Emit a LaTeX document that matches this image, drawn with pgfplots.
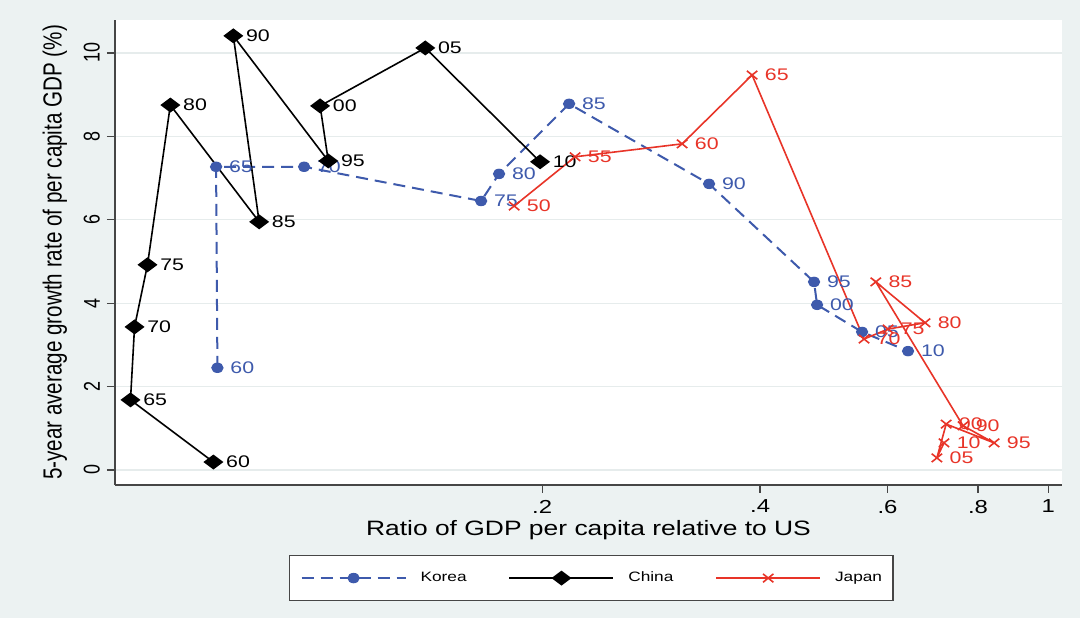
\documentclass[border=0pt]{standalone}
\usepackage{pgfplots}
\pgfplotsset{compat=1.18}
\usepackage{fontspec}
\setmainfont{Liberation Sans}[FakeStretch=1.27]
\newfontfamily\rotfont{Liberation Sans}[FakeStretch=0.787]
\definecolor{bg}{RGB}{236,242,242}
\definecolor{korea}{RGB}{62,90,172}
\definecolor{japan}{RGB}{232,52,40}
\definecolor{gridc}{RGB}{230,236,236}
\definecolor{axisc}{RGB}{70,70,70}

\pgfdeclareplotmark{kdot}{\pgfpathellipse{\pgfpointorigin}{\pgfqpoint{3.1bp}{0pt}}{\pgfqpoint{0pt}{2.6bp}}\pgfusepathqfill}
\pgfdeclareplotmark{cdiam}{\pgfpathmoveto{\pgfqpoint{0pt}{3.75bp}}\pgfpathlineto{\pgfqpoint{5bp}{0pt}}\pgfpathlineto{\pgfqpoint{0pt}{-3.75bp}}\pgfpathlineto{\pgfqpoint{-5bp}{0pt}}\pgfpathclose\pgfusepathqfill}
\pgfdeclareplotmark{jx}{\pgfpathmoveto{\pgfqpoint{-2.6bp}{-2.1bp}}\pgfpathlineto{\pgfqpoint{2.6bp}{2.1bp}}\pgfpathmoveto{\pgfqpoint{-2.6bp}{2.1bp}}\pgfpathlineto{\pgfqpoint{2.6bp}{-2.1bp}}\pgfusepathqstroke}

\pgfplotstableread{
x y lab
0.0712 2.45 60
0.0709 7.27 65
0.0938 7.27 70
0.1647 6.45 75
0.1744 7.10 80
0.2179 8.78 85
0.3401 6.86 90
0.4749 4.51 95
0.4795 3.96 00
0.5533 3.31 05
0.6404 2.85 10
}\korea

\pgfplotstableread{
x y lab
0.0703 0.19 60
0.0540 1.68 65
0.0547 3.43 70
0.0570 4.92 75
0.0613 8.75 80
0.0813 5.95 85
0.0749 10.41 90
0.1013 7.41 95
0.0987 8.73 00
0.1379 10.12 05
0.1987 7.39 10
}\china

\pgfplotstableread{
x y lab
0.1830 6.33 50
0.2221 7.51 55
0.3122 7.82 60
0.3900 9.47 65
0.5568 3.14 70
0.601 3.38 75
0.676 3.53 80
0.578 4.51 85
0.763 1.06 90
0.842 0.65 95
0.723 1.10 00
0.702 0.29 05
0.718 0.65 10
}\japan

\begin{document}
\begin{tikzpicture}
\useasboundingbox (0,0) rectangle (540bp,309bp);
\fill[bg] (0,0) rectangle (540bp,309bp);
\begin{axis}[
  at={(57.5bp,66.5bp)}, anchor=south west,
  scale only axis, width=473.5bp, height=232.5bp,
  xmode=log, xmin=0.0514, xmax=1.045, ymin=-0.36, ymax=10.79,
  axis x line*=bottom, axis y line*=left,
  axis line style={axisc, line width=0.6bp},
  axis background/.style={fill=white},
  xtick={0.2,0.4,0.6,0.8,1}, xticklabels={.2,.4,.6,.8,1},
  xminorticks=false, yminorticks=false,
  ytick={0,2,4,6,8,10}, yticklabels={0,2,4,6,8,10},
  tick align=outside, major tick length=4bp,
  tick style={axisc, line width=0.6bp},
  ymajorgrids, grid style={gridc, line width=0.6bp},
  xticklabel style={font=\fontsize{9.4bp}{11bp}\selectfont},
  yticklabel style={rotate=90, anchor=south, font=\rotfont\fontsize{11.4bp}{12bp}\selectfont},
  xlabel={Ratio of GDP per capita relative to US},
  ylabel={5-year average growth rate of per capita GDP (\%)},
  every axis x label/.style={at={(axis description cs:0.5,-0.0968)}, anchor=center, font=\fontsize{10.4bp}{12bp}\selectfont},
  every axis y label/.style={at={(axis description cs:-0.0634,0.5)}, rotate=90, anchor=center, font=\rotfont\fontsize{13.1bp}{14bp}\selectfont},
  legend image code/.code={\draw[mark repeat=2,mark phase=2,#1] plot coordinates {(0bp,0bp) (26bp,0bp) (52bp,0bp)};},
  legend style={at={(0.503,-0.1505)}, anchor=north, draw=axisc, line width=0.6bp, fill=white,
    inner xsep=5.5bp, inner ysep=7.5bp, font=\fontsize{6.8bp}{8bp}\selectfont,
    nodes={inner sep=0pt},
    /tikz/every odd column/.append style={column sep=7bp},
    /tikz/every even column/.append style={column sep=21bp},
    cells={anchor=west}},
  legend columns=3,
  nodes near coords, point meta=explicit symbolic,
  nodes near coords style={anchor=west, inner sep=0pt, xshift=6bp, font=\fontsize{8.4bp}{10bp}\selectfont},
]
\addplot[korea, line width=1bp, dash pattern=on 6bp off 3.5bp, mark=kdot, mark options={solid},
  nodes near coords style={text=korea}] table[x=x,y=y,meta=lab] {\korea};
\addlegendentry{Korea}
\addplot[black, line width=0.8bp, mark=cdiam,
  nodes near coords style={text=black}] table[x=x,y=y,meta=lab] {\china};
\addlegendentry{China}
\addplot[japan, line width=0.8bp, mark=jx, mark options={solid},
  nodes near coords style={text=japan}] table[x=x,y=y,meta=lab] {\japan};
\addlegendentry{Japan}
\end{axis}
\end{tikzpicture}
\end{document}
